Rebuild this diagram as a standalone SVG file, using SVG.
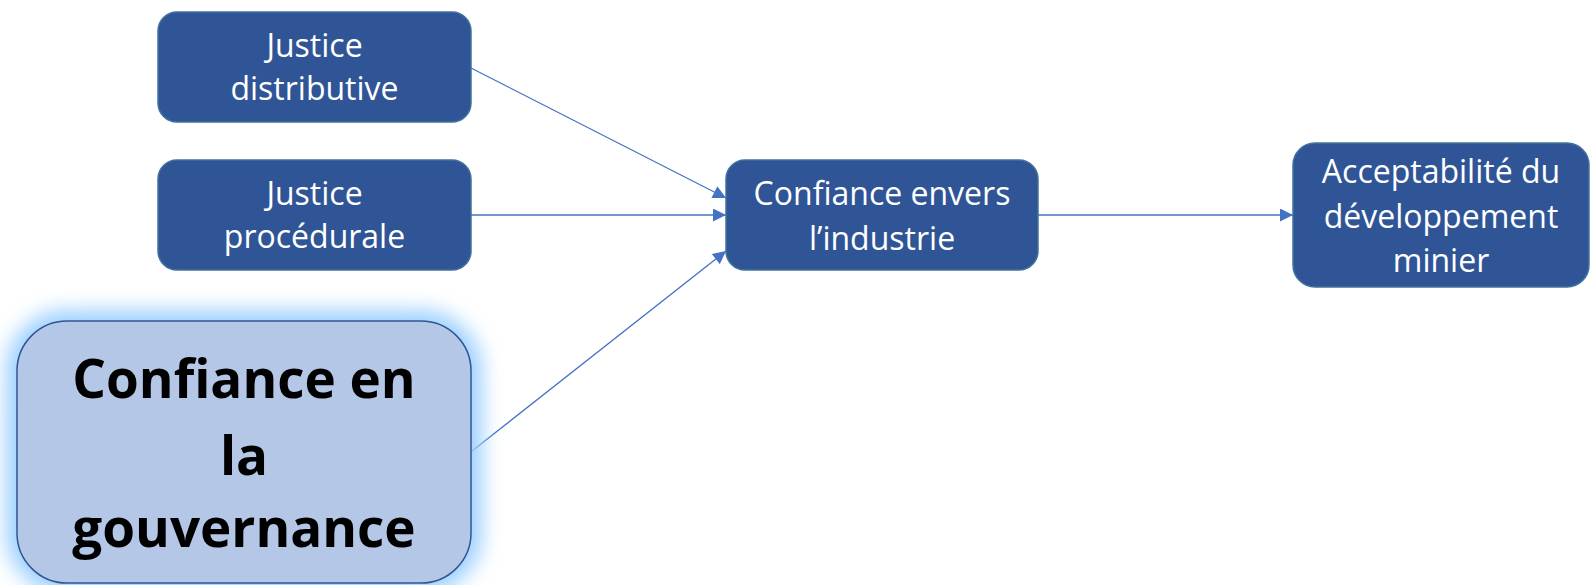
<svg xmlns="http://www.w3.org/2000/svg" width="1590" height="585" viewBox="0 0 1590 585">
<style>
.box{fill:#2F5597;stroke:#41719C;stroke-width:1.5}
.t{font-family:"Open Sans",Lato,sans-serif;font-size:32px;fill:#fff;text-anchor:middle}
.big{font-family:"Open Sans",Lato,sans-serif;font-weight:bold;font-size:53px;fill:#000;text-anchor:middle}
.c{stroke:#4472C4;stroke-width:1.3;fill:none;marker-end:url(#ah)}
</style>
<defs>
<marker id="ah" viewBox="0 0 10 10" refX="10" refY="5" markerWidth="15" markerHeight="13" markerUnits="userSpaceOnUse" orient="auto">
<path d="M0,0 L10,5 L0,10 z" fill="#4472C4"/>
</marker>
<filter id="glow" x="-25%" y="-25%" width="150%" height="150%">
<feGaussianBlur stdDeviation="10"/>
</filter>
</defs>
<rect width="1590" height="585" fill="#fff"/>
<g id="connectors">
<line class="c" x1="471" y1="68" x2="726" y2="198"/>
<line class="c" x1="471" y1="215" x2="726" y2="215"/>
<line class="c" x1="472" y1="451" x2="726" y2="251"/>
<line class="c" x1="1038" y1="215" x2="1293" y2="215"/>
</g>
<g id="n-distributive">
<rect class="box" x="158" y="12" width="313" height="110" rx="19"/>
<text class="t" x="314.5" y="57">Justice</text>
<text class="t" x="314.5" y="100">distributive</text>
</g>
<g id="n-procedurale">
<rect class="box" x="158" y="160" width="313" height="110" rx="19"/>
<text class="t" x="314.5" y="205">Justice</text>
<text class="t" x="314.5" y="248">procédurale</text>
</g>
<g id="n-gouvernance">
<rect x="17" y="321" width="454" height="262" rx="50" fill="#9CD0FF" filter="url(#glow)" stroke="#9CD0FF" stroke-width="22"/>
<rect x="17" y="321" width="454" height="262" rx="50" fill="#B4C7E7" stroke="#2F5597" stroke-width="1.5"/>
<text class="big" x="244" y="398">Confiance en</text>
<text class="big" x="244" y="475">la</text>
<text class="big" x="244" y="547">gouvernance</text>
</g>
<g id="n-industrie">
<rect class="box" x="726" y="160" width="312" height="110" rx="19"/>
<text class="t" x="882" y="205">Confiance envers</text>
<text class="t" x="882" y="250">l’industrie</text>
</g>
<g id="n-acceptabilite">
<rect class="box" x="1293" y="143" width="296" height="144" rx="22"/>
<text class="t" x="1441" y="183">Acceptabilité du</text>
<text class="t" x="1441" y="228">développement</text>
<text class="t" x="1441" y="272">minier</text>
</g>
</svg>
